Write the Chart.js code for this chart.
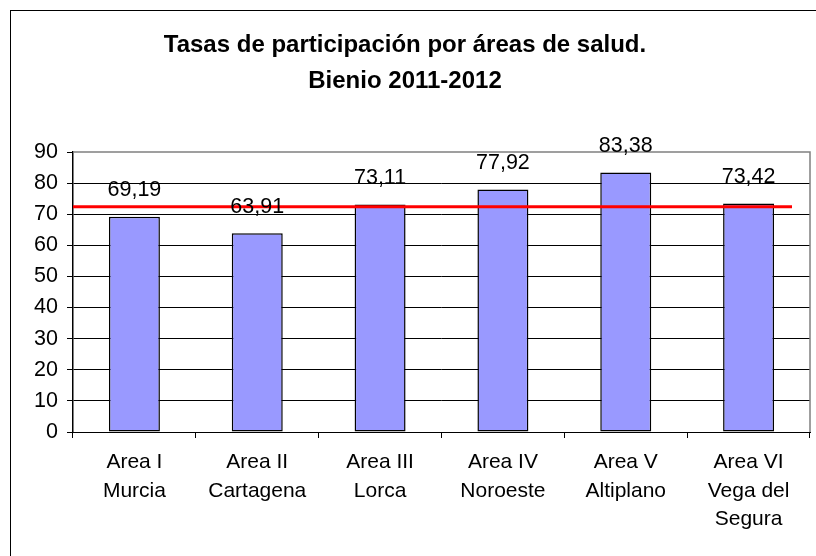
<!DOCTYPE html>
<html>
<head>
<meta charset="utf-8">
<script src="https://cdn.jsdelivr.net/npm/chart.js@4/dist/chart.umd.min.js"></script>
<style>
  html, body { margin: 0; padding: 0; background: #fff; overflow: hidden; }
  #wrap { width: 816px; height: 556px; position: relative; }
</style>
</head>
<body>
<div id="wrap"><canvas id="c" width="816" height="556"></canvas></div>
<script>
const titleLines = ['Tasas de participación por áreas de salud.', 'Bienio 2011-2012'];
const categories = [
  ['Area I', 'Murcia'],
  ['Area II', 'Cartagena'],
  ['Area III', 'Lorca'],
  ['Area IV', 'Noroeste'],
  ['Area V', 'Altiplano'],
  ['Area VI', 'Vega del', 'Segura']
];
const tasas = [69.19, 63.91, 73.11, 77.92, 83.38, 73.42];
const mediaRegional = 72.4;
const yMin = 0, yMax = 90, yStep = 10;

const FONT = '"Liberation Sans", Arial, sans-serif';

const decor = {
  id: 'decor',
  beforeDraw(chart) {
    const ctx = chart.ctx;
    ctx.save();
    ctx.fillStyle = '#fff';
    ctx.fillRect(0, 0, chart.width, chart.height);
    ctx.strokeStyle = '#000';
    ctx.lineWidth = 1;
    ctx.strokeRect(10.5, 10.5, 1000, 1000);
    ctx.restore();
  },
  afterDatasetsDraw(chart) {
    const ctx = chart.ctx;
    const area = chart.chartArea;
    const y = chart.scales.y;
    ctx.save();
    // plot area border (grey top / right)
    ctx.strokeStyle = '#808080';
    ctx.lineWidth = 1.5;
    ctx.beginPath();
    ctx.moveTo(area.left, area.top);
    ctx.lineTo(area.right, area.top);
    ctx.lineTo(area.right, area.bottom);
    ctx.stroke();
    // red average line
    const yy = y.getPixelForValue(mediaRegional);
    ctx.strokeStyle = '#FF0000';
    ctx.lineWidth = 3;
    ctx.beginPath();
    ctx.moveTo(area.left, yy);
    ctx.lineTo(area.right - 18, yy);
    ctx.stroke();
    // data labels
    const meta = chart.getDatasetMeta(0);
    ctx.fillStyle = '#000';
    ctx.font = '21.5px ' + FONT;
    ctx.textAlign = 'center';
    ctx.textBaseline = 'alphabetic';
    meta.data.forEach((bar, i) => {
      const txt = tasas[i].toFixed(2).replace('.', ',');
      ctx.fillText(txt, bar.x, bar.y - 20.5);
    });
    ctx.restore();
  }
};

new Chart(document.getElementById('c'), {
  type: 'bar',
  data: {
    labels: categories,
    datasets: [{
      data: tasas,
      backgroundColor: '#9999FF',
      borderColor: '#000000',
      borderWidth: 1.5,
      borderSkipped: false,
      barPercentage: 0.83,
      categoryPercentage: 0.5
    }]
  },
  options: {
    responsive: false,
    animation: false,
    devicePixelRatio: 1,
    layout: { padding: { top: 0, right: 6, bottom: 0, left: 0 } },
    plugins: {
      legend: { display: false },
      tooltip: { enabled: false },
      title: {
        display: true,
        text: titleLines,
        color: '#000',
        font: { family: FONT, size: 24, weight: 'bold', lineHeight: 1.5 },
        padding: { top: 27, bottom: 53 }
      }
    },
    scales: {
      x: {
        grid: {
          offset: true,
          drawOnChartArea: false,
          drawTicks: true,
          tickLength: 6,
          color: '#000',
          tickColor: '#000'
        },
        border: { color: '#000', width: 1 },
        ticks: {
          color: '#000',
          padding: 10,
          maxRotation: 0,
          autoSkip: false,
          font: { family: FONT, size: 21, lineHeight: 1.36 }
        },
        afterFit(scale) { scale.height = 124; }
      },
      y: {
        min: yMin,
        max: yMax,
        grid: {
          color: (c) => (c.tick && c.tick.value === yMax) ? 'rgba(0,0,0,0)' : '#000',
          tickColor: '#000',
          lineWidth: 1,
          drawTicks: true,
          tickLength: 6
        },
        border: { color: '#000', width: 1.5 },
        ticks: {
          stepSize: yStep,
          color: '#000',
          padding: 9,
          font: { family: FONT, size: 21.5 }
        },
        afterFit(scale) { scale.width = 73; }
      }
    }
  },
  plugins: [decor]
});
</script>
</body>
</html>
